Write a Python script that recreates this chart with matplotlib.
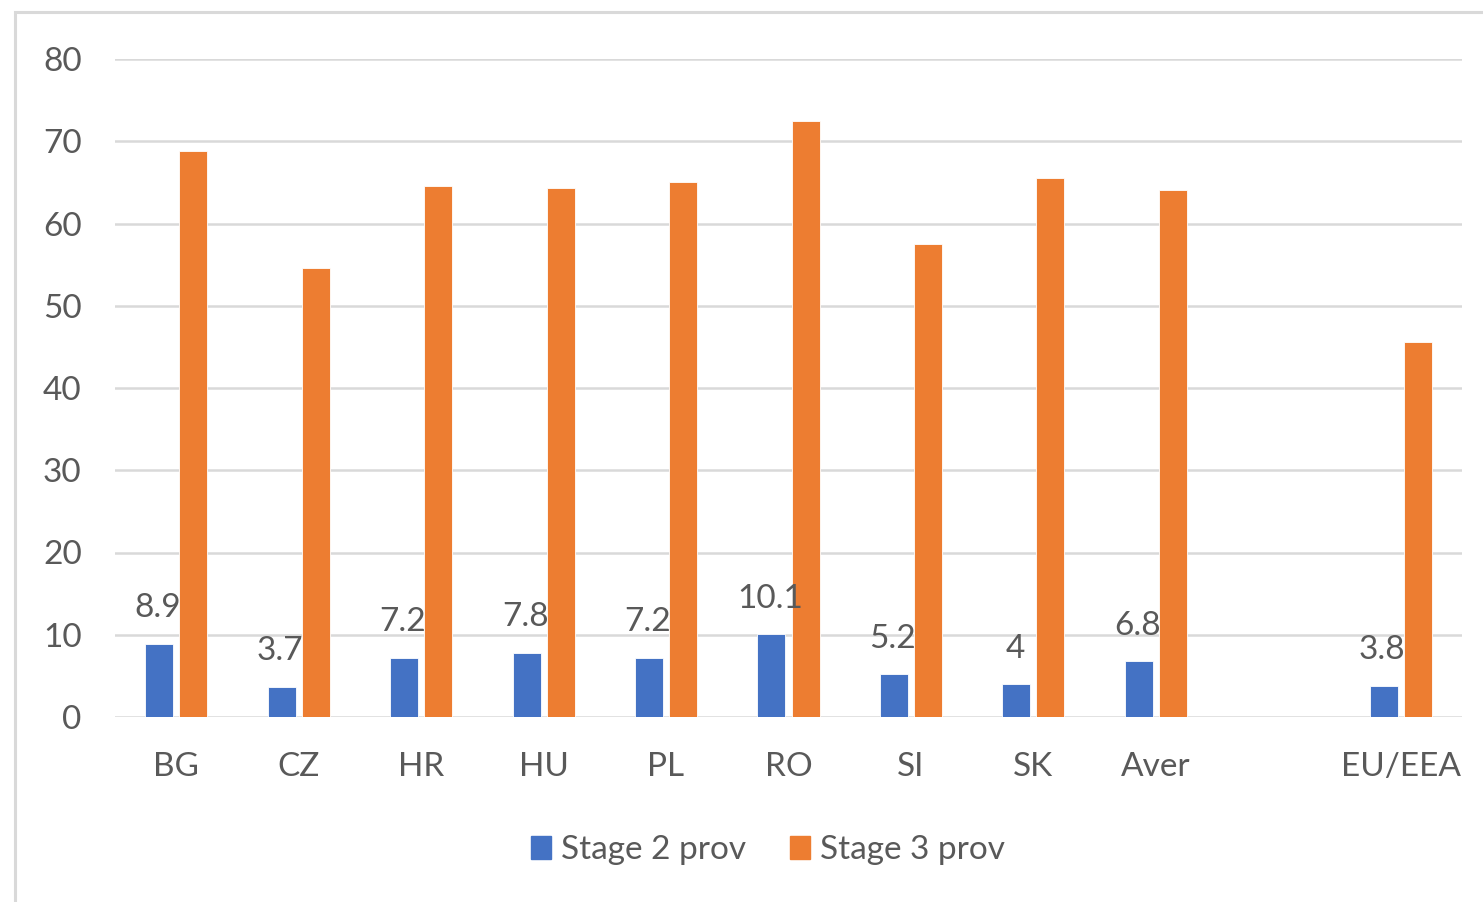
import matplotlib
matplotlib.use("Agg")
import matplotlib.pyplot as plt
import matplotlib.patches as mpatches
import numpy as np

# categories (blank slot keeps EU/EEA apart from the country group)
categories = ["BG", "CZ", "HR", "HU", "PL", "RO", "SI", "SK", "Aver", "", "EU/EEA"]
stage2 = [8.9, 3.7, 7.2, 7.8, 7.2, 10.1, 5.2, 4, 6.8, None, 3.8]
stage3 = [68.8, 54.6, 64.6, 64.3, 65.0, 72.5, 57.5, 65.5, 64.1, None, 45.6]
yticks = [0, 10, 20, 30, 40, 50, 60, 70, 80]

blue = "#4472c4"
orange = "#ed7d31"
grey_txt = "#595959"
grid_c = "#d9d9d9"
fs = 24

plt.rcParams["font.family"] = ["Lato", "DejaVu Sans"]

W, H = 1483, 902
fig = plt.figure(figsize=(W / 100, H / 100), dpi=100)
ax = fig.add_axes([115 / W, 1 - 717 / H, (1462 - 115) / W, (717 - 59) / H])

x = np.arange(len(categories))
bw = 0.229
off = 0.139
for i in x:
    if stage2[i] is None:
        continue
    ax.bar(i - off, stage2[i], bw, color=blue, edgecolor="white", linewidth=0.6, zorder=3)
    ax.bar(i + off, stage3[i], bw, color=orange, edgecolor="white", linewidth=0.6, zorder=3)
    lbl = str(stage2[i])
    ax.annotate(lbl, (i - off, stage2[i]), xytext=(-1, 19), textcoords="offset points",
                ha="center", va="baseline", fontsize=fs, color=grey_txt, zorder=4)

ax.set_xlim(-0.5, 10.5)
ax.set_ylim(0, 80)
ax.set_yticks(yticks)
ax.set_xticks(x)
ax.set_xticklabels(categories)
ax.yaxis.grid(True, color=grid_c, linewidth=1.8, zorder=0)
ax.set_axisbelow(True)
for s in ax.spines.values():
    s.set_visible(False)
ax.tick_params(axis="both", length=0, labelsize=fs, labelcolor=grey_txt)
ax.tick_params(axis="y", pad=24)
ax.tick_params(axis="x", pad=25)

# legend below the plot
handles = [mpatches.Patch(color=blue, label="Stage 2 prov"),
           mpatches.Patch(color=orange, label="Stage 3 prov")]
fig.legend(handles=handles, loc="center", bbox_to_anchor=(768 / W, 1 - 850 / H),
           ncol=2, frameon=False, fontsize=fs, labelcolor=grey_txt,
           handlelength=0.62, handleheight=0.66, handletextpad=0.3, columnspacing=1.3)

# chart area border
fig.patches.append(mpatches.Rectangle((15 / W, -0.1), 1.2, 1 - 12 / H + 0.1,
                                      transform=fig.transFigure, fill=False,
                                      edgecolor=grid_c, linewidth=2.2))

fig.savefig("out.png", dpi=100, facecolor="white")
